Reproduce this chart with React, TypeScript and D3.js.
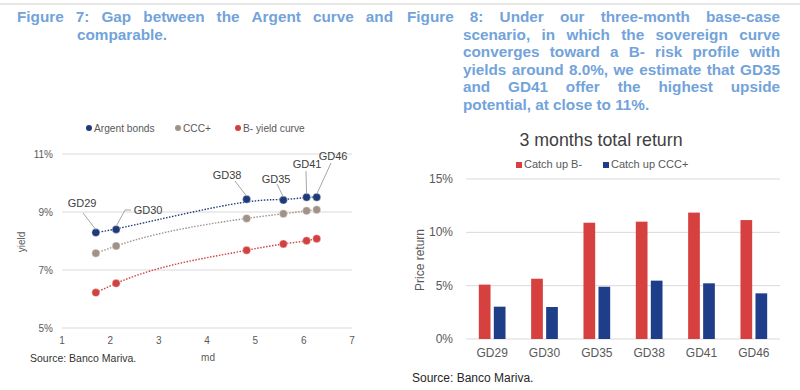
import * as d3 from "d3";

const titleColor = "#72A3DA";
const argColor = "#1F3A78";
const cccColor = "#A09288";
const bColor = "#D0413F";
const barRed = "#D6403F";
const barBlue = "#1E3E8A";
const tickColor = "#595959";
const gridColor = "#D9D9D9";

// left chart data
const bonds = ["GD29", "GD30", "GD38", "GD35", "GD41", "GD46"];
const md = [1.7, 2.12, 4.82, 5.58, 6.06, 6.27];
const argentYield = [8.29, 8.4, 9.44, 9.41, 9.51, 9.51];
const cccYield = [7.58, 7.83, 8.78, 8.94, 9.04, 9.08];
const bYield = [6.22, 6.54, 7.68, 7.9, 8.01, 8.08];
const yieldTicks = [5, 7, 9, 11];
const mdTicks = [1, 2, 3, 4, 5, 6, 7];
// label offsets for the bond tags (label centre, leader start)
const tagPos = [
  {lx: 82, ly: 203, ax: 83, ay: 213},
  {lx: 148, ly: 210, ax: 127, ay: 210},
  {lx: 227, ly: 175, ax: 235, ay: 181},
  {lx: 276, ly: 179, ax: 277, ay: 184},
  {lx: 307, ly: 164, ax: 306, ay: 171},
  {lx: 333, ly: 156, ax: 331, ay: 163},
];

// right chart data
const barCats = ["GD29", "GD30", "GD35", "GD38", "GD41", "GD46"];
const catchB = [5.1, 5.65, 10.9, 11.0, 11.85, 11.15];
const catchCCC = [3.03, 3.0, 4.9, 5.47, 5.22, 4.28];
const returnTicks = [0, 5, 10, 15];

const leftTitle1 = ["Figure", "7:", "Gap", "between", "the", "Argent", "curve", "and"];
const leftTitle2 = "comparable.";
const rightTitleLines = [
  "scenario, in which the sovereign curve",
  "converges toward a B- risk profile with",
  "yields around 8.0%, we estimate that GD35",
  "and GD41 offer the highest upside",
];
const rightTitleFirst = ["Figure", "8:", "Under", "our", "three-month", "base-case"];
const rightTitleLast = "potential, at close to 11%.";

const titleFont = "bold 15.3px Arial, 'Liberation Sans', sans-serif";
const lineGap = 17.5;
const firstBase = 22;

let ctx: any = null;
function measure(s: string) {
  if (!ctx) ctx = document.createElement("canvas").getContext("2d");
  ctx.font = titleFont;
  return ctx.measureText(s).width;
}

function Justified({words, x0, x1, y}: any) {
  const widths = words.map((w) => measure(w));
  const total = d3.sum(widths);
  const gap = (x1 - x0 - total) / (words.length - 1);
  let x = x0;
  return (
    <g>
      {words.map((w, i) => {
        const el = (
          <text key={i} x={x} y={y}>
            {w}
          </text>
        );
        x += widths[i] + gap;
        return el;
      })}
    </g>
  );
}

function YieldChart() {
  const x = d3.scaleLinear().domain([1, 7]).range([62, 352]);
  const y = d3.scaleLinear().domain([5, 11]).range([328, 154]);
  const mkLine = (curve) =>
    d3
      .line<number>()
      .x((d, i) => x(md[i]))
      .y((d) => y(d))
      .curve(curve);
  const series = [
    {name: "B- yield curve", vals: bYield, color: bColor, curve: d3.curveMonotoneX},
    {name: "CCC+", vals: cccYield, color: cccColor, curve: d3.curveMonotoneX},
    {name: "Argent bonds", vals: argentYield, color: argColor, curve: d3.curveBasis},
  ];
  const legend = [
    {name: "Argent bonds", color: argColor, x: 89},
    {name: "CCC+", color: cccColor, x: 178},
    {name: "B- yield curve", color: bColor, x: 238},
  ];
  return (
    <g fontFamily="Arial, 'Liberation Sans', sans-serif">
      {legend.map((l) => (
        <g key={l.name} transform={`translate(${l.x},128)`}>
          <circle r={3} fill={l.color} />
          <text x={5} y={3.5} fontSize={10.2} fill={tickColor}>
            {l.name}
          </text>
        </g>
      ))}
      {yieldTicks.map((t) => (
        <g key={t}>
          <line x1={62} x2={352} y1={y(t)} y2={y(t)} stroke={gridColor} strokeWidth={1} />
          <text x={53} y={y(t) + 3.5} fontSize={10} fill={tickColor} textAnchor="end">
            {t}%
          </text>
        </g>
      ))}
      {mdTicks.map((t) => (
        <text key={t} x={x(t)} y={344} fontSize={10} fill={tickColor} textAnchor="middle">
          {t}
        </text>
      ))}
      <text x={208} y={361} fontSize={10} fill={tickColor} textAnchor="middle">
        md
      </text>
      <text
        transform="translate(25,242) rotate(-90)"
        fontSize={10}
        fill={tickColor}
        textAnchor="middle"
      >
        yield
      </text>
      {series.map((s) => (
        <g key={s.name}>
          <path
            d={mkLine(s.curve)(s.vals) || ""}
            fill="none"
            stroke={s.color}
            strokeWidth={1.4}
            strokeDasharray="1.5,1.5"
          />
          {s.vals.map((v, i) => (
            <circle
              key={i}
              cx={x(md[i])}
              cy={y(v)}
              r={4}
              fill={s.color}
              stroke="#ffffff"
              strokeOpacity={0.5}
              strokeWidth={0.8}
            />
          ))}
        </g>
      ))}
      {bonds.map((b, i) => {
        const p = tagPos[i];
        const px = x(md[i]);
        const py = y(argentYield[i]);
        return (
          <g key={b}>
            {i === 1 ? (
              <polyline
                points={`${px},${py - 3} ${p.ax - 2},${p.ay} ${p.ax + 4},${p.ay}`}
                fill="none"
                stroke="#A6A6A6"
                strokeWidth={1}
              />
            ) : (
              <line x1={p.ax} y1={p.ay} x2={px} y2={py - 3} stroke="#A6A6A6" strokeWidth={1} />
            )}
            <text x={p.lx} y={p.ly + 4} fontSize={11} fill="#404040" textAnchor="middle">
              {b}
            </text>
          </g>
        );
      })}
      <text x={30} y={362} fontSize={10.5} fill="#333">
        Source: Banco Mariva.
      </text>
    </g>
  );
}

function ReturnChart() {
  const x0 = d3.scaleBand().domain(barCats).range([466, 780]).padding(0);
  const y = d3.scaleLinear().domain([0, 15]).range([339, 179]);
  const bw = 11.7;
  const gap = 3.3;
  return (
    <g fontFamily="Arial, 'Liberation Sans', sans-serif">
      <text x={601} y={146} fontSize={17.8} fill="#404040" textAnchor="middle">
        3 months total return
      </text>
      <rect x={516} y={162} width={6} height={6} fill={barRed} />
      <text x={524} y={168} fontSize={11} fill={tickColor}>
        Catch up B-
      </text>
      <rect x={603} y={162} width={6} height={6} fill={barBlue} />
      <text x={611} y={168} fontSize={11} fill={tickColor}>
        Catch up CCC+
      </text>
      {returnTicks.map((t) => (
        <g key={t}>
          <line x1={466} x2={780} y1={y(t)} y2={y(t)} stroke={gridColor} strokeWidth={1} />
          <text x={453} y={y(t) + 4} fontSize={12} fill={tickColor} textAnchor="end">
            {t}%
          </text>
        </g>
      ))}
      <text
        transform="translate(424,260) rotate(-90)"
        fontSize={12}
        fill={tickColor}
        textAnchor="middle"
      >
        Price return
      </text>
      {barCats.map((c, i) => {
        const cx = (x0(c) || 0) + x0.bandwidth() / 2;
        return (
          <g key={c}>
            <rect
              x={cx - gap / 2 - bw}
              y={y(catchB[i])}
              width={bw}
              height={y(0) - y(catchB[i])}
              fill={barRed}
            />
            <rect
              x={cx + gap / 2}
              y={y(catchCCC[i])}
              width={bw}
              height={y(0) - y(catchCCC[i])}
              fill={barBlue}
            />
            <text x={cx} y={357} fontSize={12} fill={tickColor} textAnchor="middle">
              {c}
            </text>
          </g>
        );
      })}
      <text x={412} y={382} fontSize={12} fill="#262626">
        Source: Banco Mariva.
      </text>
    </g>
  );
}

export default function App() {
  return (
    <svg
      width={800}
      height={390}
      style={{position: "absolute", left: 0, top: 0, background: "#fff"}}
    >
      <rect width={800} height={390} fill="#ffffff" />
      <line x1={0} x2={800} y1={4} y2={4} stroke="#CCCCCC" strokeWidth={1} />
      <g fill={titleColor} style={{font: titleFont}}>
        <Justified words={leftTitle1} x0={17} x1={393} y={firstBase} />
        <text x={77} y={firstBase + lineGap}>
          {leftTitle2}
        </text>
        <Justified words={rightTitleFirst} x0={407} x1={780} y={firstBase} />
        {rightTitleLines.map((l, i) => (
          <Justified
            key={i}
            words={l.split(" ")}
            x0={463}
            x1={780}
            y={firstBase + (i + 1) * lineGap}
          />
        ))}
        <text x={463} y={firstBase + 5 * lineGap}>
          {rightTitleLast}
        </text>
      </g>
      <YieldChart />
      <ReturnChart />
    </svg>
  );
}
